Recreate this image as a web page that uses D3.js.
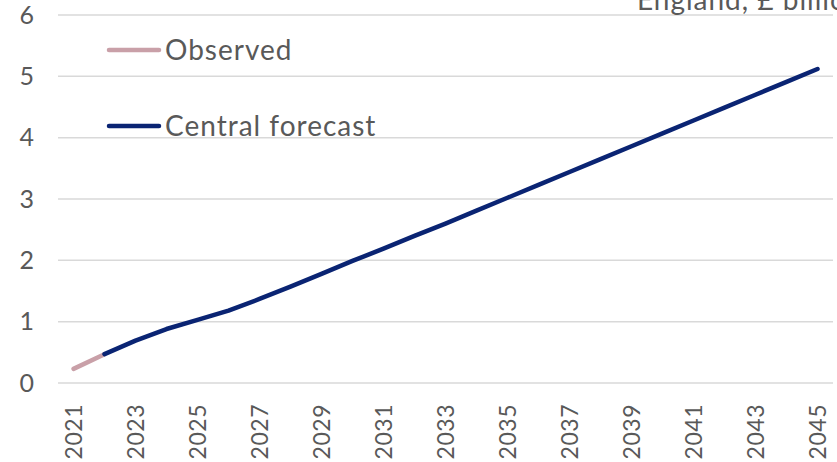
<!DOCTYPE html>
<html>
<head>
<meta charset="utf-8">
<script src="https://cdn.jsdelivr.net/npm/d3@7"></script>
<style>
  html, body { margin: 0; padding: 0; background: #fff; }
  svg { display: block; font-family: "Lato", "Open Sans", sans-serif; }
</style>
</head>
<body>
<svg id="chart" width="837" height="462"></svg>
<script>
// Years on the horizontal axis
const years = [2021, 2022, 2023, 2024, 2025, 2026, 2027, 2028, 2029, 2030,
               2031, 2032, 2033, 2034, 2035, 2036, 2037, 2038, 2039, 2040,
               2041, 2042, 2043, 2044, 2045];

// Observed values (£ billion)
const observedYears = [2021, 2022];
const observedValues = [0.23, 0.47];

// Central forecast (£ billion)
const forecastYears = [2022, 2023, 2024, 2025, 2026, 2027, 2028, 2029, 2030,
                       2031, 2032, 2033, 2034, 2035, 2036, 2037, 2038, 2039,
                       2040, 2041, 2042, 2043, 2044, 2045];
const forecastValues = [0.47, 0.69, 0.88, 1.03, 1.18, 1.37, 1.57, 1.78, 1.99,
                        2.19, 2.40, 2.60, 2.81, 3.02, 3.23, 3.44, 3.65, 3.86,
                        4.07, 4.28, 4.49, 4.70, 4.91, 5.12];

const yTicks = [0, 1, 2, 3, 4, 5, 6];
const xTickLabels = years.filter((d, i) => i % 2 === 0);

const seriesNames = ["Observed", "Central forecast"];
const seriesColors = ["#c9a0a8", "#0a2473"];
const unitLabel = "England, £ billion";

const svg = d3.select("#chart");
const margin = { left: 58, right: 4, top: 15, bottom: 79 };
const W = 837, H = 462;

const x = d3.scaleBand()
  .domain(years)
  .range([margin.left, W - margin.right]);

const y = d3.scaleLinear()
  .domain([0, 6])
  .range([H - margin.bottom, margin.top]);

const textColor = "#595959";
const fontStack = "Lato, 'Open Sans', sans-serif";

// Horizontal gridlines
svg.append("g")
  .selectAll("line")
  .data(yTicks)
  .join("line")
  .attr("x1", margin.left)
  .attr("x2", W - margin.right)
  .attr("y1", d => y(d))
  .attr("y2", d => y(d))
  .attr("stroke", "#d9d9d9")
  .attr("stroke-width", 1.5);

// Y axis labels
const yAxis = d3.axisLeft(y).tickValues(yTicks).tickSize(0).tickPadding(0).tickFormat(d3.format("d"));
svg.append("g")
  .attr("transform", `translate(${margin.left - 24},0)`)
  .call(yAxis)
  .call(g => g.select(".domain").remove())
  .call(g => g.selectAll("text")
    .attr("fill", textColor)
    .attr("font-size", 25)
    .attr("font-family", fontStack));

// X axis labels, rotated
const xAxis = d3.axisBottom(x).tickValues(xTickLabels).tickSize(0).tickPadding(0);
svg.append("g")
  .attr("transform", `translate(0,${H - margin.bottom})`)
  .call(xAxis)
  .call(g => g.select(".domain").remove())
  .call(g => g.selectAll("text")
    .attr("fill", textColor)
    .attr("font-size", 23)
    .attr("font-family", fontStack)
    .attr("letter-spacing", 0.5)
    .attr("text-anchor", "end")
    .attr("dy", "0.36em")
    .attr("transform", "translate(0,21) rotate(-90)")
    .attr("x", 0)
    .attr("y", 0));

const line = d3.line()
  .x(d => x(d[0]) + x.bandwidth() / 2)
  .y(d => y(d[1]));

// Observed series
svg.append("path")
  .datum(observedYears.map((yr, i) => [yr, observedValues[i]]))
  .attr("d", line)
  .attr("fill", "none")
  .attr("stroke", seriesColors[0])
  .attr("stroke-width", 4.5)
  .attr("stroke-linecap", "round");

// Central forecast series
svg.append("path")
  .datum(forecastYears.map((yr, i) => [yr, forecastValues[i]]))
  .attr("d", line)
  .attr("fill", "none")
  .attr("stroke", seriesColors[1])
  .attr("stroke-width", 4.5)
  .attr("stroke-linecap", "round")
  .attr("stroke-linejoin", "round");

// Legend
const legendY = [50, 126];
const legend = svg.append("g");
seriesNames.forEach((name, i) => {
  legend.append("line")
    .attr("x1", 109).attr("x2", 159)
    .attr("y1", legendY[i]).attr("y2", legendY[i])
    .attr("stroke", seriesColors[i])
    .attr("stroke-width", 4.5)
    .attr("stroke-linecap", "round");
  legend.append("text")
    .attr("x", 165)
    .attr("y", legendY[i])
    .attr("dy", "0.35em")
    .attr("fill", textColor)
    .attr("font-size", 28)
    .attr("letter-spacing", 1)
    .text(name);
});

// Unit label in the top right corner
svg.append("text")
  .attr("x", 637)
  .attr("y", 10)
  .attr("fill", textColor)
  .attr("font-size", 28)
  .attr("letter-spacing", 1)
  .text(unitLabel);
</script>
</body>
</html>
